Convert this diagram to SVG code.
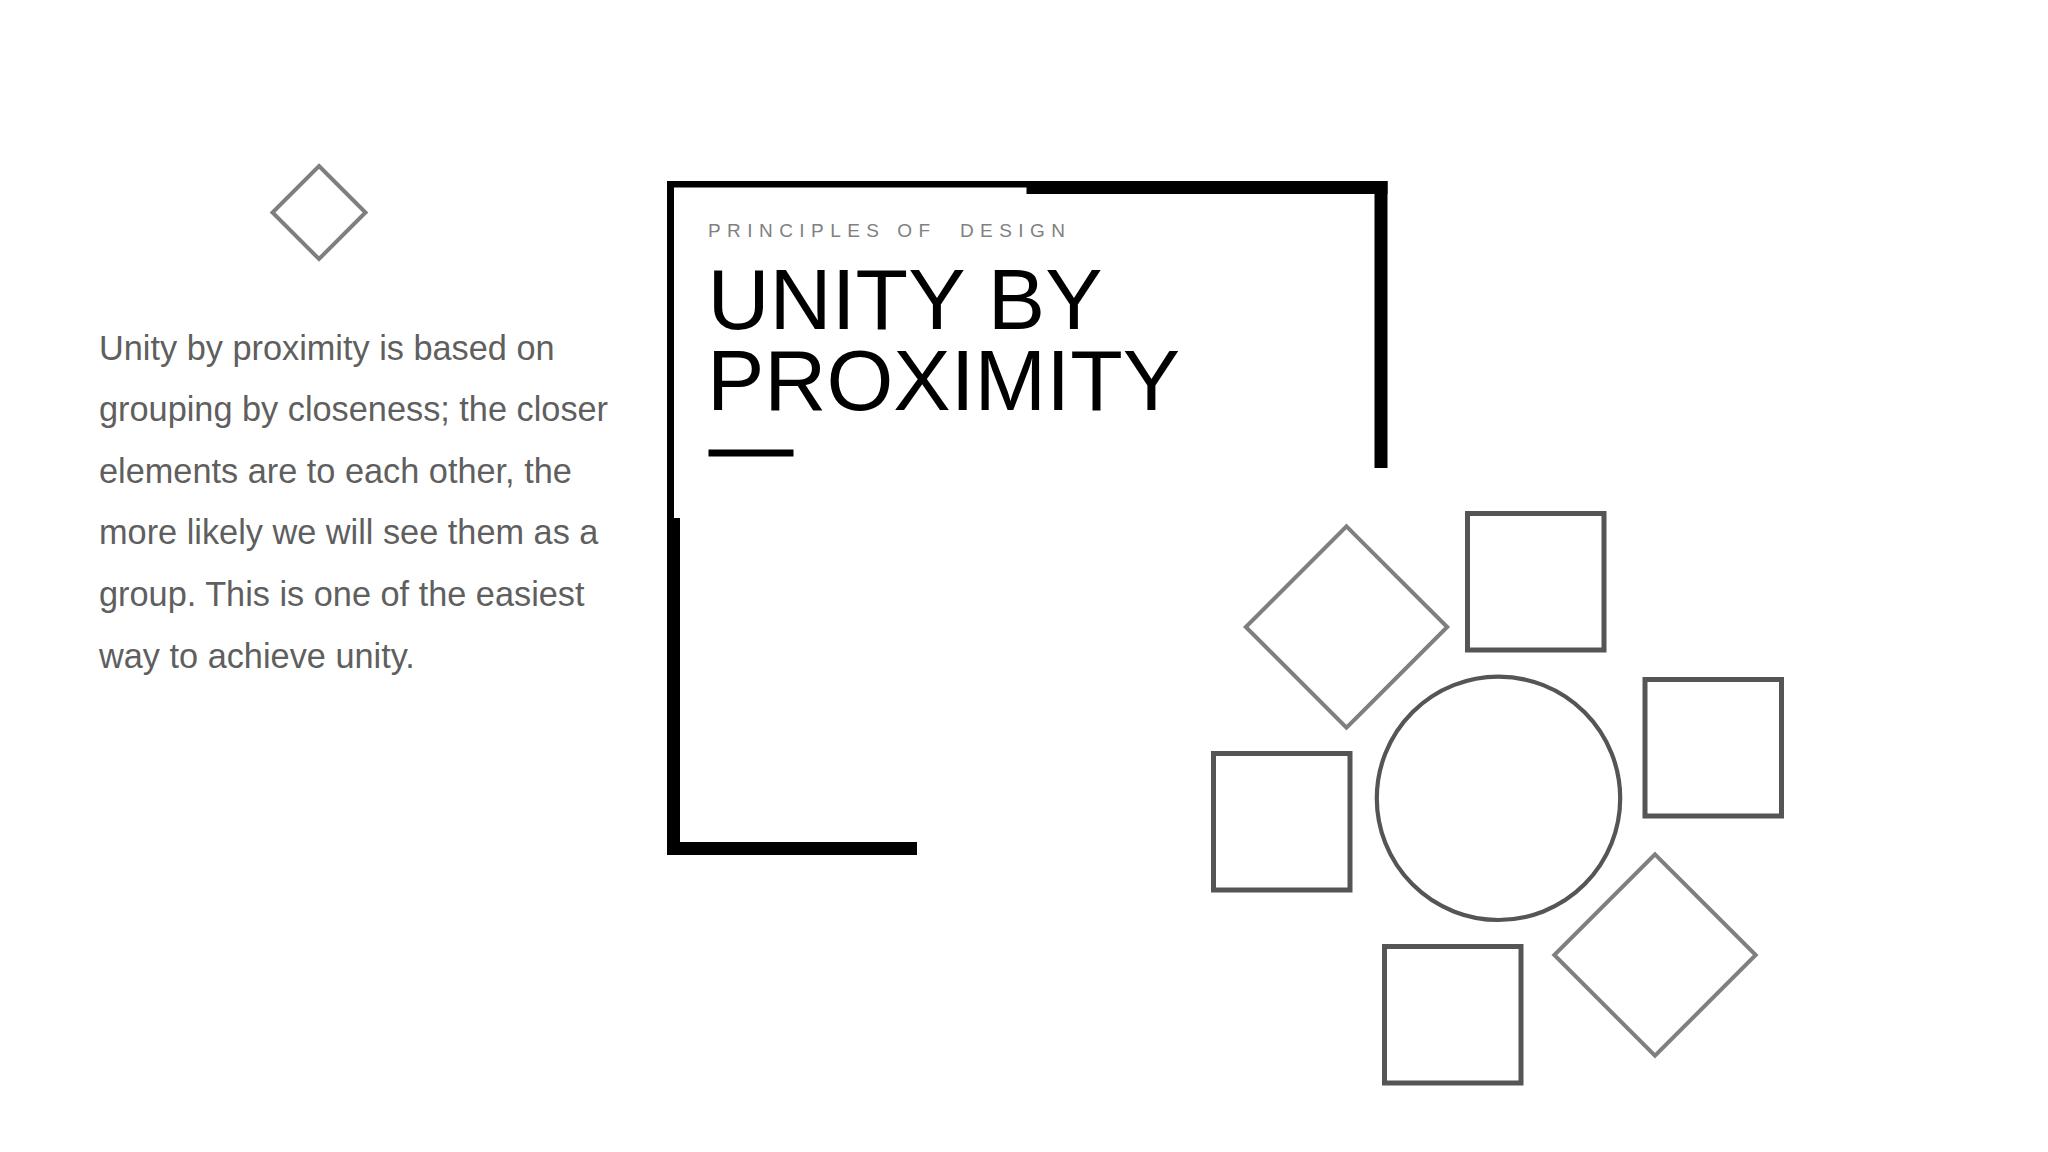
<svg xmlns="http://www.w3.org/2000/svg" width="2048" height="1152" viewBox="0 0 2048 1152">
  <style>
    .para { font-family: "Liberation Sans", Arial, sans-serif; font-size: 34.3px; fill: #5f5f5f; }
    .sub { font-family: "Liberation Sans", Arial, sans-serif; font-size: 19px; fill: #808080; letter-spacing: 6.45px; }
    .title { font-family: "Liberation Sans", Arial, sans-serif; font-size: 86px; fill: #000000; }
    .dia { fill: none; stroke: #7f7f7f; stroke-width: 4; }
    .sq { fill: none; stroke: #555555; stroke-width: 5; }
    .circ { fill: none; stroke: #555555; stroke-width: 4.2; }
    .bar { fill: #000000; }
  </style>
  <rect width="2048" height="1152" fill="#ffffff"/>

  <g id="frame">
    <rect class="bar" x="667" y="181" width="361" height="6.5"/>
    <rect class="bar" x="667" y="181" width="7" height="340"/>
    <rect class="bar" x="1026.5" y="181" width="361" height="13"/>
    <rect class="bar" x="1374.5" y="181" width="13" height="287"/>
    <rect class="bar" x="667" y="518" width="13" height="337"/>
    <rect class="bar" x="667" y="842" width="250" height="13"/>
  </g>

  <g id="subtitle">
    <text class="sub" x="708" y="236.5" xml:space="preserve">PRINCIPLES OF  DESIGN</text>
  </g>

  <g id="title">
    <text class="title" x="707.5" y="328.5">UNITY BY</text>
    <text class="title" x="707" y="410">PROXIMITY</text>
    <rect class="bar" x="708.5" y="449.5" width="85" height="7"/>
  </g>

  <g id="small-diamond">
    <polygon class="dia" points="319,166 365.5,212.5 319,259 272.5,212.5"/>
  </g>

  <g id="paragraph">
    <text class="para" x="99" y="359.5">Unity by proximity is based on</text>
    <text class="para" x="99" y="421.1">grouping by closeness; the closer</text>
    <text class="para" x="99" y="482.7">elements are to each other, the</text>
    <text class="para" x="99" y="544.3">more likely we will see them as a</text>
    <text class="para" x="99" y="605.9">group. This is one of the easiest</text>
    <text class="para" x="99" y="667.5">way to achieve unity.</text>
  </g>

  <g id="shapes">
    <g id="circle-center"><circle class="circ" cx="1498.5" cy="798.3" r="121.7"/></g>
    <g id="diamond-top-left"><polygon class="dia" points="1346.5,526.3 1447.2,627 1346.5,727.7 1245.8,627"/></g>
    <g id="square-top"><rect class="sq" x="1467.5" y="513.5" width="136.5" height="136.5"/></g>
    <g id="square-right"><rect class="sq" x="1645" y="679.5" width="136.5" height="136.5"/></g>
    <g id="square-left"><rect class="sq" x="1213.5" y="753.5" width="136.5" height="136.5"/></g>
    <g id="square-bottom"><rect class="sq" x="1384.5" y="946.5" width="136.5" height="136.5"/></g>
    <g id="diamond-bottom-right"><polygon class="dia" points="1655,854.3 1755.7,955 1655,1055.7 1554.3,955"/></g>
  </g>

  <g id="connectors"></g>
</svg>
